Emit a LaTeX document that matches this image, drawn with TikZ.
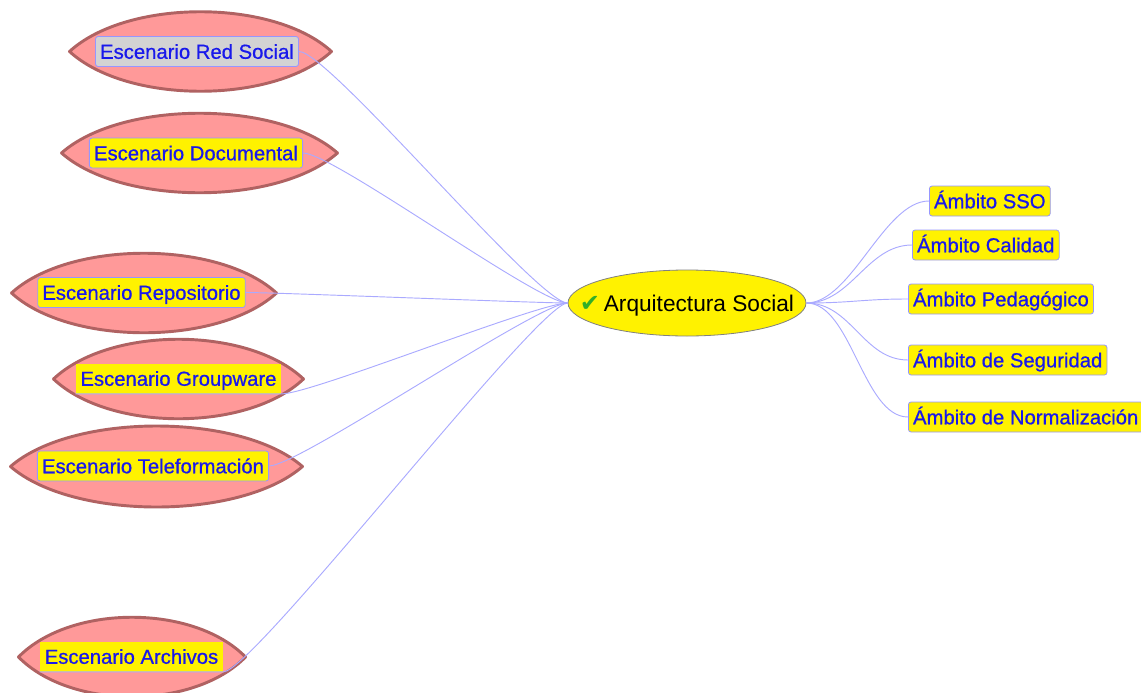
\documentclass[tikz,border=0pt]{standalone}
\usepackage{fontspec}
\setmainfont{Liberation Sans}
\newfontfamily\zettelschrift{Liberation Sans}[FakeBold=0.7]
\newfontfamily\symbolschrift{DejaVu Sans}
\usetikzlibrary{shapes.geometric}

\definecolor{textblau}{RGB}{25,25,235}
\definecolor{randblau}{RGB}{150,150,255}
\definecolor{kantenblau}{RGB}{170,170,255}
\definecolor{rosa}{RGB}{255,153,153}
\definecolor{lentenrand}{RGB}{176,98,98}
\definecolor{grau}{RGB}{211,211,211}
\definecolor{haken}{RGB}{50,175,40}

\begin{document}
\begin{tikzpicture}[x=0.75pt, y=-0.75pt,
  zettel/.style={rounded corners=2pt, fill=yellow, draw=randblau, line width=0.6pt, text=textblau,
    font=\zettelschrift\fontsize{15.2}{18}\selectfont, inner xsep=3.5pt, inner ysep=0pt,
    minimum height=22.5pt, text height=12pt, text depth=1.1pt},
  gabel/.style={zettel, draw=none, rounded corners=0pt},
  lente/.style={fill=rosa, draw=lentenrand, line width=2.2pt, line join=round},
  kante/.style={draw=kantenblau, line width=0.7pt}]
\useasboundingbox (0,0) rectangle (1141,692);

% Linsen
\draw[lente] (69.5,51.5) .. controls +(58,-53) and +(-58,-53) .. (331.5,51.5) .. controls +(-58,53) and +(58,53) .. (69.5,51.5) -- cycle; % Red Social
\draw[lente] (61.5,153) .. controls +(60,-53) and +(-60,-53) .. (337.5,153) .. controls +(-60,53) and +(60,53) .. (61.5,153) -- cycle; % Documental
\draw[lente] (11.5,293) .. controls +(58,-53) and +(-58,-53) .. (276.5,293) .. controls +(-58,53) and +(58,53) .. (11.5,293) -- cycle; % Repositorio
\draw[lente] (53.5,379) .. controls +(56,-53) and +(-56,-53) .. (303.5,379) .. controls +(-56,53) and +(56,53) .. (53.5,379) -- cycle; % Groupware
\draw[lente] (10.5,466.5) .. controls +(62,-54) and +(-62,-54) .. (302.5,466.5) .. controls +(-62,54) and +(62,54) .. (10.5,466.5) -- cycle; % Teleformacion
\draw[lente] (18.5,657) .. controls +(52,-53) and +(-52,-53) .. (245.5,657) .. controls +(-52,53) and +(52,53) .. (18.5,657) -- cycle; % Archivos

% Mitte
\node[ellipse, fill=yellow, draw=gray, line width=0.6pt, minimum width=178.5pt, minimum height=49.5pt,
  inner sep=0pt, text height=12.2pt, text depth=0pt, font=\fontsize{17}{20}\selectfont] (as) at (687,303)
  {\makebox[0pt]{{\symbolschrift\color{haken}\fontsize{18}{18}\selectfont ✔}\,Arquitectura Social}};

% Escenarios
\node[zettel, fill=grau] (rs) at (197,51.5) {Escenario Red Social};
\node[zettel] (dok) at (196,153) {Escenario Documental};
\node[zettel] (rep) at (141.5,292.5) {Escenario Repositorio};
\node[gabel] (gw) at (178.5,378.5) {Escenario Groupware};
\node[zettel] (tf) at (153,466) {Escenario Teleformación};
\node[gabel] (arc) at (131.5,656.5) {Escenario Archivos};

% Ambitos
\node[zettel, anchor=west] (sso) at (929,201) {Ámbito SSO};
\node[zettel, anchor=west] (cal) at (912,245) {Ámbito Calidad};
\node[zettel, anchor=west] (ped) at (908,299) {Ámbito Pedagógico};
\node[zettel, anchor=west] (seg) at (908,360) {Ámbito de Seguridad};
\node[zettel, anchor=west] (nor) at (908,417) {Ámbito de Normalización};

% Kanten links
\draw[kante] (rs.east) .. controls +(30,0) and +(-30,0) .. (as.west);
\draw[kante] (dok.east) .. controls +(30,0) and +(-30,0) .. (as.west);
\draw[kante] (rep.east) .. controls +(30,0) and +(-30,0) .. (as.west);
\draw[kante] (gw.south west) -- (gw.south east) .. controls +(30,0) and +(-30,0) .. (as.west);
\draw[kante] (tf.east) .. controls +(30,0) and +(-30,0) .. (as.west);
\draw[kante] (arc.south west) -- (arc.south east) .. controls +(30,0) and +(-30,0) .. (as.west);

% Kanten rechts
\draw[kante] (as.east) .. controls +(45,0) and +(-45,0) .. (sso.west);
\draw[kante] (as.east) .. controls +(45,0) and +(-45,0) .. (cal.west);
\draw[kante] (as.east) .. controls +(45,0) and +(-45,0) .. (ped.west);
\draw[kante] (as.east) .. controls +(45,0) and +(-45,0) .. (seg.west);
\draw[kante] (as.east) .. controls +(45,0) and +(-45,0) .. (nor.west);

\end{tikzpicture}
\end{document}
